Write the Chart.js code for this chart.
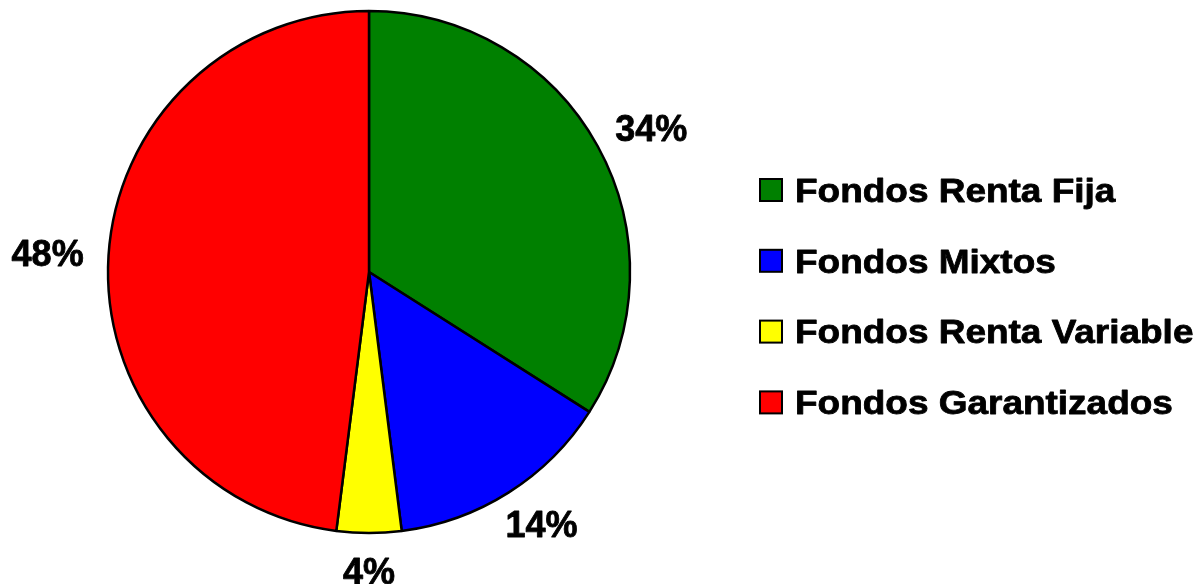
<!DOCTYPE html>
<html>
<head>
<meta charset="utf-8">
<script src="https://cdn.jsdelivr.net/npm/chart.js@4"></script>
<style>
  html, body { margin: 0; padding: 0; background: #fff; }
  #wrap { width: 1203px; height: 584px; position: relative; }
</style>
</head>
<body>
<div id="wrap"><canvas id="c" width="1203" height="584"></canvas></div>
<script>
const categories = ['Fondos Renta Fija', 'Fondos Mixtos', 'Fondos Renta Variable', 'Fondos Garantizados'];
const shares = [34, 14, 4, 48];
const sliceColors = ['#008000', '#0000FF', '#FFFF00', '#FF0000'];

const FONT = "'Liberation Sans', Arial, sans-serif";

const pctLabels = {
  id: 'pctLabels',
  afterDatasetsDraw(chart) {
    const ctx = chart.ctx;
    const meta = chart.getDatasetMeta(0);
    const total = shares.reduce((a, b) => a + b, 0);
    const size = 36, cap = 0.716 * size, gap = 25;
    ctx.save();
    ctx.font = 'bold ' + size + 'px ' + FONT;
    ctx.fillStyle = '#000';
    ctx.strokeStyle = '#000';
    ctx.lineWidth = 0.8;
    ctx.lineJoin = 'round';
    ctx.textAlign = 'center';
    ctx.textBaseline = 'alphabetic';
    meta.data.forEach((arc, i) => {
      const p = arc.getProps(['x', 'y', 'startAngle', 'endAngle', 'outerRadius'], true);
      const mid = (p.startAngle + p.endAngle) / 2;
      const dx = Math.cos(mid), dy = Math.sin(mid);
      const txt = Math.round(shares[i] / total * 100) + '%';
      const w = ctx.measureText(txt).width;
      const cx = p.x + dx * (p.outerRadius + gap) + dx * w / 2;
      const cy = p.y + dy * (p.outerRadius + gap) + dy * cap / 2;
      ctx.fillText(txt, cx, cy + cap / 2);
      ctx.strokeText(txt, cx, cy + cap / 2);
    });
    ctx.restore();
  }
};

const sideLegend = {
  id: 'sideLegend',
  afterDraw(chart) {
    const ctx = chart.ctx;
    const ds = chart.data.datasets[0];
    const x0 = 760, y0 = 190, step = 70.8, box = 22;
    const size = 33, cap = 0.716 * size, stretch = 1.12;
    ctx.save();
    chart.data.labels.forEach((lab, i) => {
      const cy = y0 + i * step;
      ctx.fillStyle = ds.backgroundColor[i];
      ctx.fillRect(x0, cy - box / 2, box, box);
      ctx.lineWidth = 2;
      ctx.strokeStyle = '#000';
      ctx.strokeRect(x0, cy - box / 2, box, box);
      ctx.save();
      ctx.translate(x0 + 35, cy + cap / 2);
      ctx.scale(stretch, 1);
      ctx.font = 'bold ' + size + 'px ' + FONT;
      ctx.fillStyle = '#000';
      ctx.strokeStyle = '#000';
      ctx.lineWidth = 0.8;
      ctx.lineJoin = 'round';
      ctx.textAlign = 'left';
      ctx.textBaseline = 'alphabetic';
      ctx.fillText(lab, 0, 0);
      ctx.strokeText(lab, 0, 0);
      ctx.restore();
    });
    ctx.restore();
  }
};

new Chart(document.getElementById('c'), {
  type: 'pie',
  data: {
    labels: categories,
    datasets: [{
      data: shares,
      backgroundColor: sliceColors,
      borderColor: '#000',
      borderWidth: 2.5,
      radius: 261
    }]
  },
  options: {
    responsive: false,
    animation: false,
    layout: { padding: { left: 0, right: 465, top: 0, bottom: 40 } },
    plugins: {
      legend: { display: false },
      tooltip: { enabled: false }
    }
  },
  plugins: [pctLabels, sideLegend]
});
</script>
</body>
</html>
